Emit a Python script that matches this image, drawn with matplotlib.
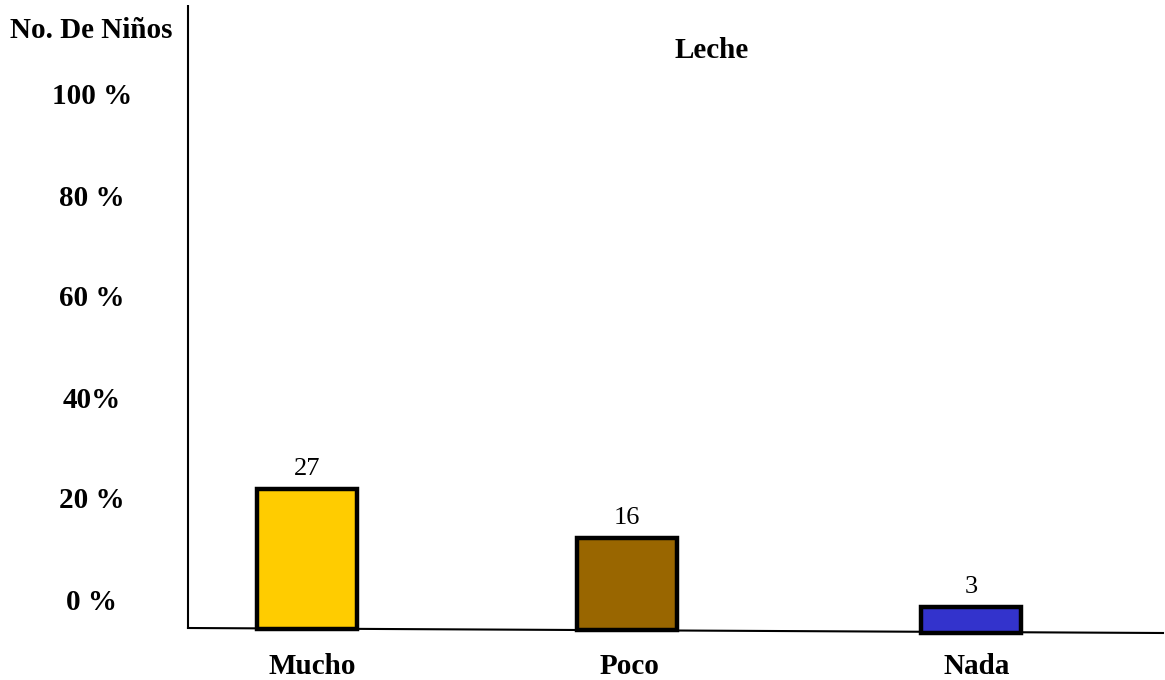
import matplotlib
matplotlib.use("Agg")
import matplotlib.pyplot as plt

# Data
categories = ["Mucho", "Poco", "Nada"]
values = [27, 16, 3]
colors = ["#FFCC00", "#996600", "#3333CC"]
y_labels = ["100 %", "80 %", "60 %", "40%", "20 %", "0 %"]
title = "Leche"
y_title = "No. De Niños"

# drawn bar heights (canvas units)
bar_heights = [140, 92, 26]

plt.rcParams['font.family'] = ['Liberation Serif', 'DejaVu Serif']

fig = plt.figure(figsize=(11.65, 6.8), dpi=100)
ax = fig.add_axes([0, 0, 1, 1])
ax.set_xlim(0, 1165)
ax.set_ylim(680, 0)
ax.axis('off')

# layout
centers = [307, 627, 971]
bottoms = [629, 630, 633]
bw = 100

# axes lines
ax.plot([188, 188], [5, 629], color='black', lw=1.5, solid_capstyle='butt')
ax.plot([188, 1163], [628, 633], color='black', lw=1.5)

ax.bar(centers, [-h for h in bar_heights], bottom=bottoms, width=bw,
       color=colors, edgecolor='black', linewidth=3.2, zorder=3)

for c, b, h, v in zip(centers, bottoms, bar_heights, values):
    ax.text(c, b - h - 9, str(v), ha='center', va='bottom', fontsize=19)

label_x = [312, 629, 977]
for x, cat in zip(label_x, categories):
    ax.text(x, 664, cat, ha='center', va='center_baseline', fontsize=21, fontweight='bold')

ylab_y = [95, 196, 297, 398, 498, 600]
for y, t in zip(ylab_y, y_labels):
    ax.text(92, y - 1, t, ha='center', va='center_baseline', fontsize=21, fontweight='bold')

ax.text(91, 27, y_title, ha='center', va='center_baseline', fontsize=21, fontweight='bold')
ax.text(712, 47, title, ha='center', va='center_baseline', fontsize=21, fontweight='bold')

fig.savefig("out.png", dpi=100)
